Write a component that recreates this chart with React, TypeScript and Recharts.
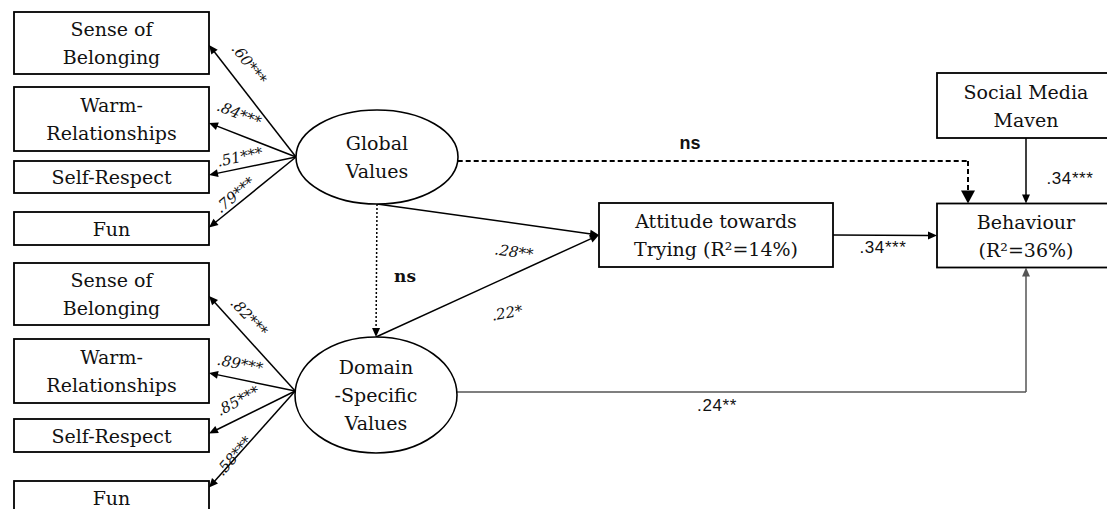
import React from 'react';
import { ScatterChart, Scatter, XAxis, YAxis, ReferenceLine } from 'recharts';

const WIDTH = 1107;
const HEIGHT = 509;

// indicators measured for both value factors
const indicatorNames = [['Sense of', 'Belonging'], ['Warm-', 'Relationships'], ['Self-Respect'], ['Fun']];
const globalLoadings = ['.60***', '.84***', '.51***', '.79***'];
const domainLoadings = ['.82***', '.89***', '.85***', '.58***'];

const latentNames: Record<string, string[]> = {
    gv: ['Global', 'Values'],
    dv: ['Domain', '-Specific', 'Values'],
};
const outcomeNames: Record<string, string[]> = {
    att: ['Attitude towards', 'Trying (R\u00B2=14%)'],
    beh: ['Behaviour', '(R\u00B2=36%)'],
    smm: ['Social Media', 'Maven'],
};

// structural paths with their estimates
const structuralPaths = [
    { from: 'gv', to: 'att', est: '.28**' },
    { from: 'dv', to: 'att', est: '.22*' },
    { from: 'gv', to: 'dv', est: 'ns' },
    { from: 'gv', to: 'beh', est: 'ns' },
    { from: 'att', to: 'beh', est: '.34***' },
    { from: 'smm', to: 'beh', est: '.34***' },
    { from: 'dv', to: 'beh', est: '.24**' },
];

// ---- layout (chart units, one unit = one pixel) ----
const nodeLayout: Record<string, any> = {
    gv: { x: 377, y: 157, rx: 81, ry: 47 },
    dv: { x: 376, y: 395, rx: 81, ry: 58 },
    att: { x: 716, y: 235, w: 234, h: 64 },
    beh: { x: 1026, y: 235.5, w: 178, h: 64 },
    smm: { x: 1026, y: 105.5, w: 178, h: 65 },
};
const indicatorCol = { x: 111.5, w: 195 };
const indicatorRows: Record<string, { y: number; h: number; tipDy: number }[]> = {
    gv: [{ y: 43, h: 62, tipDy: 2 }, { y: 119, h: 64, tipDy: 4 }, { y: 177, h: 32, tipDy: -2 }, { y: 228.5, h: 33, tipDy: -1 }],
    dv: [{ y: 294, h: 62, tipDy: 2 }, { y: 371, h: 64, tipDy: 2 }, { y: 435.5, h: 33, tipDy: -2 }, { y: 497.5, h: 33, tipDy: -10 }],
};
const loadingOutDy: Record<string, number> = { gv: 0, dv: -4 };
const loadingLabelSpots: Record<string, { x: number; y: number; a: number }[]> = {
    gv: [{ x: 249, y: 64, a: 52 }, { x: 239, y: 114, a: 22 }, { x: 240, y: 157, a: -12 }, { x: 235, y: 195, a: -40 }],
    dv: [{ x: 249, y: 317, a: 47 }, { x: 240, y: 364, a: 11 }, { x: 238, y: 401, a: -28 }, { x: 234, y: 456, a: -49 }],
};
const pathRoutes: any[] = [
    { out: 'bottom', in: 'left' },
    { out: 'top', in: 'left' },
    { out: 'bottom', in: 'top', dash: '2 2' },
    { out: 'right', in: 'top', outDy: 4, bendX: 968, dash: '5 3', width: 2, head: [13, 7] },
    { out: 'right', in: 'left' },
    { out: 'bottom', in: 'top' },
    { out: 'right', in: 'bottom', outDy: -3, bendX: 1026, color: '#555555' },
];
const pathLabelSpots = [
    { x: 514, y: 252, a: 8, font: 'serifItalic' },
    { x: 507, y: 313, a: -10, font: 'serifItalic' },
    { x: 405, y: 276, a: 0, font: 'boldSerif' },
    { x: 690, y: 143, a: 0, font: 'boldSans' },
    { x: 883, y: 247, a: 0, font: 'narrow' },
    { x: 1070, y: 178, a: 0, font: 'narrow' },
    { x: 717, y: 405, a: 0, font: 'narrow' },
];

const SERIF = "'DejaVu Serif', serif";
const labelFonts: Record<string, any> = {
    loading: { fontFamily: SERIF, fontSize: 15, fontStyle: 'italic' },
    serifItalic: { fontFamily: SERIF, fontSize: 15, fontStyle: 'italic' },
    boldSerif: { fontFamily: SERIF, fontSize: 17, fontWeight: 'bold' },
    boldSans: { fontFamily: "'Liberation Sans', sans-serif", fontSize: 18, fontWeight: 'bold' },
    narrow: { fontFamily: "'Liberation Sans Narrow', 'Liberation Sans', sans-serif", fontSize: 17, letterSpacing: 0.6 },
};

// anchor point on a node's outline
const anchor = (id: string, side: string, dy = 0) => {
    const n = nodeLayout[id];
    const hw = n.rx ?? n.w / 2;
    const hh = n.ry ?? n.h / 2;
    const sideX = n.rx ? hw * Math.sqrt(Math.max(0, 1 - (dy / hh) ** 2)) : hw;
    switch (side) {
        case 'left': return { x: n.x - sideX, y: n.y + dy };
        case 'right': return { x: n.x + sideX, y: n.y + dy };
        case 'top': return { x: n.x, y: n.y - hh };
        default: return { x: n.x, y: n.y + hh };
    }
};

interface Seg { a: { x: number; y: number }; b: { x: number; y: number }; head?: number[]; color: string; width: number; dash?: string }

const segments: Seg[] = [];

// measurement arrows (factor -> indicators)
(['gv', 'dv'] as const).forEach(lat => {
    const start = anchor(lat, 'left', loadingOutDy[lat]);
    indicatorRows[lat].forEach(row => {
        segments.push({
            a: start,
            b: { x: indicatorCol.x + indicatorCol.w / 2, y: row.y + row.tipDy },
            head: [9, 4], color: '#000', width: 1.5,
        });
    });
});

// structural arrows
structuralPaths.forEach((p, i) => {
    const r = pathRoutes[i];
    const start = anchor(p.from, r.out, r.outDy ?? 0);
    const color = r.color ?? '#000';
    const width = r.width ?? 1.5;
    const head = r.head ?? [9, 4];
    if (r.bendX !== undefined) {
        const end = anchor(p.to, r.in);
        const corner = { x: r.bendX, y: start.y };
        segments.push({ a: start, b: corner, color, width, dash: r.dash });
        segments.push({ a: corner, b: { x: r.bendX, y: end.y }, head, color, width, dash: r.dash });
    } else {
        segments.push({ a: start, b: anchor(p.to, r.in), head, color, width, dash: r.dash });
    }
});

const nodeData = [
    ...(['gv', 'dv'] as const).flatMap(lat =>
        indicatorNames.map((lines, i) => ({
            x: indicatorCol.x, y: indicatorRows[lat][i].y, w: indicatorCol.w, h: indicatorRows[lat][i].h, kind: 'box', lines,
        }))),
    ...Object.keys(latentNames).map(id => ({ ...nodeLayout[id], kind: 'latent', lines: latentNames[id] })),
    ...Object.keys(outcomeNames).map(id => ({ ...nodeLayout[id], kind: 'box', lines: outcomeNames[id] })),
];

const labelData = [
    ...globalLoadings.map((t, i) => ({ ...loadingLabelSpots.gv[i], text: t, font: 'loading' })),
    ...domainLoadings.map((t, i) => ({ ...loadingLabelSpots.dv[i], text: t, font: 'loading' })),
    ...structuralPaths.map((p, i) => ({ ...pathLabelSpots[i], text: p.est })),
];

const drawSeg = (p: any, s: Seg) => {
    const { x1, y1, x2, y2 } = p;
    let ex = x2;
    let ey = y2;
    let headEl = null;
    if (s.head) {
        const [len, half] = s.head;
        const dx = x2 - x1;
        const dy = y2 - y1;
        const d = Math.hypot(dx, dy) || 1;
        const ux = dx / d;
        const uy = dy / d;
        const bx = x2 - ux * len;
        const by = y2 - uy * len;
        ex = bx + ux;
        ey = by + uy;
        headEl = (
            <polygon
                points={`${x2},${y2} ${bx - uy * half},${by + ux * half} ${bx + uy * half},${by - ux * half}`}
                fill={s.color}
            />
        );
    }
    return (
        <g>
            <line x1={x1} y1={y1} x2={ex} y2={ey} stroke={s.color} strokeWidth={s.width} strokeDasharray={s.dash} />
            {headEl}
        </g>
    );
};

const renderNode = (props: any) => {
    const { cx, cy, payload } = props;
    const lines: string[] = payload.lines;
    const lh = 28;
    const text = lines.map((l, i) => (
        <text
            key={i}
            x={cx}
            y={cy + (i - (lines.length - 1) / 2) * lh}
            textAnchor="middle"
            dominantBaseline="central"
            fontFamily={SERIF}
            fontSize={19}
            fill="#111"
        >
            {l}
        </text>
    ));
    if (payload.kind === 'latent') {
        return (
            <g>
                <ellipse cx={cx} cy={cy} rx={payload.rx} ry={payload.ry} fill="#fff" stroke="#000" strokeWidth={1.6} />
                {text}
            </g>
        );
    }
    return (
        <g>
            <rect x={cx - payload.w / 2} y={cy - payload.h / 2} width={payload.w} height={payload.h} fill="#fff" stroke="#000" strokeWidth={1.8} />
            {text}
        </g>
    );
};

const renderLabel = (props: any) => {
    const { cx, cy, payload } = props;
    return (
        <text
            x={cx}
            y={cy}
            textAnchor="middle"
            dominantBaseline="central"
            transform={`rotate(${payload.a}, ${cx}, ${cy})`}
            fill="#111"
            {...labelFonts[payload.font]}
        >
            {payload.text}
        </text>
    );
};

const App: React.FC = () => {
    return (
        <div style={{ position: 'absolute', left: 0, top: 0, width: WIDTH, height: HEIGHT, background: '#fff' }}>
            <ScatterChart width={WIDTH} height={HEIGHT} margin={{ top: 0, right: 0, bottom: 0, left: 0 }}>
                <XAxis type="number" dataKey="x" domain={[0, WIDTH]} allowDataOverflow hide />
                <YAxis type="number" dataKey="y" domain={[0, HEIGHT]} allowDataOverflow reversed hide />
                {segments.map((s, i) => (
                    <ReferenceLine
                        key={i}
                        segment={[{ x: s.a.x, y: s.a.y }, { x: s.b.x, y: s.b.y }]}
                        ifOverflow="visible"
                        stroke={s.color}
                        shape={(p: any) => drawSeg(p, s)}
                    />
                ))}
                <Scatter data={nodeData} shape={renderNode} isAnimationActive={false} />
                <Scatter data={labelData} shape={renderLabel} isAnimationActive={false} />
            </ScatterChart>
        </div>
    );
};

export default App;
